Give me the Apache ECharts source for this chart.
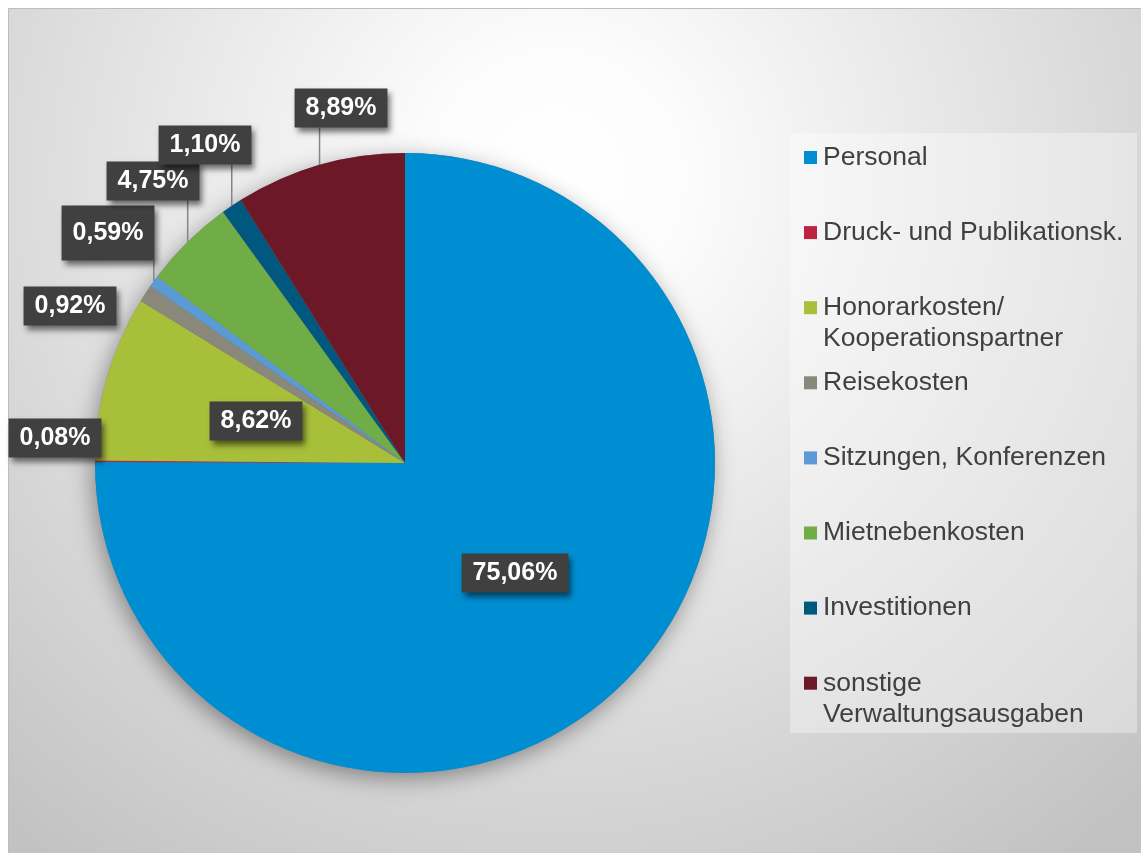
<!DOCTYPE html>
<html>
<head>
<meta charset="utf-8">
<script src="https://cdn.jsdelivr.net/npm/echarts@6/dist/echarts.min.js"></script>
<style>
html,body{margin:0;padding:0;background:#ffffff;}
#chart{width:1141px;height:853px;}
</style>
</head>
<body>
<div id="chart"></div>
<script>
const categories = ['Personal', 'Druck- und Publikationsk.', 'Honorarkosten/\nKooperationspartner', 'Reisekosten', 'Sitzungen, Konferenzen', 'Mietnebenkosten', 'Investitionen', 'sonstige\nVerwaltungsausgaben'];
const values = [75.06, 0.08, 8.62, 0.92, 0.59, 4.75, 1.10, 8.89];

const palette = ['#008ed2', '#be2342', '#a8bf3a', '#8a877b', '#5b9bd5', '#70ad47', '#00587f', '#6d1827'];
const CX = 405, CY = 463, R = 310;
// label box centres (layout only)
const labelCenters = [[515,573],[55,438],[256,421],[70,306],[108,233],[153,181],[205,145],[341,108]];
const withLine = [false,false,false,false,true,true,true,true];

const total = values.reduce((a,b)=>a+b,0);
const cum = [];
let acc = 0;
values.forEach(v => { cum.push(acc + v/2); acc += v; });

const chart = echarts.init(document.getElementById('chart'), null, {renderer:'canvas'});

const FONT = 'Liberation Sans, Arial, sans-serif';
const rich = {
  g: {width: 6, lineHeight: 31},
  sp: {width: 19, lineHeight: 31},
  t: {fontSize: 26.5, color: '#404040', lineHeight: 31, fontFamily: FONT}
};
palette.forEach((c,i)=>{ rich['sq'+i] = {width:13, height:13, backgroundColor:c, lineHeight: 31}; });

const option = {
  animation: false,
  graphic: [
    {
      type: 'rect', z: -100, silent: true,
      shape: {x: 8.5, y: 8.5, width: 1140, height: 850},
      style: {
        fill: {type:'radial', x:0.48, y:0.2, r:1.0, colorStops:[
          {offset:0, color:'#ffffff'}, {offset:0.15, color:'#fcfcfc'}, {offset:1, color:'#c2c2c2'}]},
        stroke: '#bdbdbd', lineWidth: 1
      }
    },
    {
      type: 'rect', z: -90, silent: true,
      shape: {x: 790, y: 133, width: 347, height: 600},
      style: {fill: 'rgba(255,255,255,0.35)'}
    }
  ],
  legend: {
    orient: 'vertical',
    left: 798,
    top: 142,
    padding: 0,
    itemGap: 13.1,
    icon: 'none',
    itemWidth: 1,
    itemHeight: 1,
    selectedMode: false,
    data: categories,
    formatter: function(name){
      const i = categories.indexOf(name);
      const lines = name.split('\n');
      const second = lines[1] ? lines[1] : ' ';
      return '{sq'+i+'|}{g|}{t|'+lines[0]+'}\n{sp|}{t|'+second+'}';
    },
    textStyle: {fontSize: 26.5, lineHeight: 31, fontFamily: FONT, color: '#404040', rich: rich}
  },
  series: [
    {
      type: 'pie',
      silent: true,
      z: 1,
      center: [CX, CY],
      radius: R,
      startAngle: 90,
      clockwise: true,
      label: {show:false},
      labelLine: {show:false},
      legendHoverLink: false,
      itemStyle: {color:'#808080', shadowBlur: 22, shadowColor:'rgba(0,0,0,0.38)', shadowOffsetX: -3, shadowOffsetY: 6},
      emphasis: {disabled: true},
      data: values.map((v,i)=>({value:v, name: '_s'+i}))
    },
    {
      type: 'pie',
      z: 3,
      center: [CX, CY],
      radius: R,
      startAngle: 90,
      clockwise: true,
      avoidLabelOverlap: false,
      minShowLabelAngle: 0,
      emphasis: {disabled: true},
      itemStyle: {borderWidth: 0},
      label: {
        show: true,
        position: 'outside',
        formatter: p => p.value.toFixed(2).replace('.', ',') + '%',
        color: '#ffffff',
        fontSize: 25,
        fontWeight: 'bold',
        fontFamily: FONT,
        lineHeight: 25,
        backgroundColor: '#404040',
        padding: [7, 11],
        shadowBlur: 6,
        shadowColor: 'rgba(0,0,0,0.55)',
        shadowOffsetX: 3,
        shadowOffsetY: 4
      },
      labelLine: {show: true, lineStyle: {color:'#858585', width: 1.5}, length: 5, length2: 5},
      labelLayout: function(params){
        const i = params.dataIndex;
        const c = labelCenters[i];
        const res = {x: c[0], y: c[1], align: 'center', verticalAlign: 'middle'};
        if (withLine[i]) {
          const th = 2*Math.PI*cum[i]/total;
          const px = CX + R*Math.sin(th), py = CY - R*Math.cos(th);
          const h = params.labelRect.height;
          const bottom = c[1] + h/2;
          res.labelLinePoints = [[px, py], [px, (py+bottom)/2], [px, bottom]];
        }
        return res;
      },
      data: values.map((v,i)=>({
        value: v,
        name: categories[i],
        itemStyle: {color: palette[i]},
        label: i === 4 ? {padding: [15, 11]} : {},
        labelLine: {show: withLine[i]}
      }))
    }
  ]
};
chart.setOption(option);
</script>
</body>
</html>
